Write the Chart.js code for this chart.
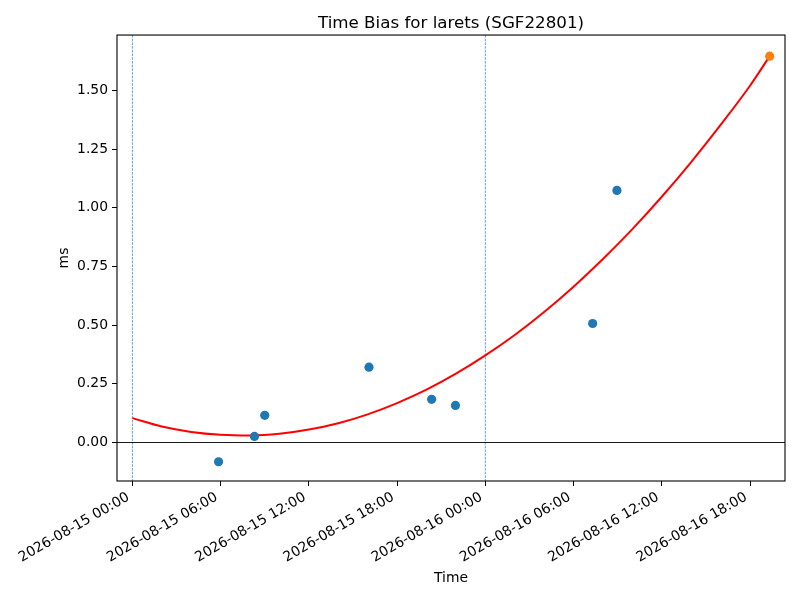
<!DOCTYPE html>
<html>
<head>
<meta charset="utf-8">
<title>Time Bias for larets (SGF22801)</title>
<script src="https://cdn.jsdelivr.net/npm/chart.js@4.4.1/dist/chart.umd.min.js"></script>
<style>
  html, body { margin: 0; padding: 0; background: #fff; }
  #wrap { width: 800px; height: 600px; }
</style>
</head>
<body>
<div id="wrap"><canvas id="biasChart" width="800" height="600"></canvas></div>
<script>
// hours counted from 2026-08-15 00:00
const obsHours = [5.86, 8.30, 9.00, 16.09, 20.35, 21.97, 31.30, 32.95];
const obsBias = [-0.082, 0.026, 0.116, 0.321, 0.184, 0.158, 0.507, 1.074];

// newest point, shown in orange
const latestHours = [43.34];
const latestBias = [1.646];

// fitted curve
const fitHours = [0, 2, 4, 6, 8, 10, 12, 14, 16, 18, 20, 22, 24, 26, 28, 30, 32, 34, 36, 38, 40, 42, 43.34];
const fitBias = [0.104, 0.068, 0.045, 0.033, 0.030, 0.037, 0.055, 0.082, 0.120, 0.168, 0.225, 0.293,
                 0.371, 0.458, 0.556, 0.664, 0.782, 0.909, 1.047, 1.195, 1.353, 1.520, 1.646];

const xTickHours = [0, 6, 12, 18, 24, 30, 36, 42];
const xTickLabels = ['2026-08-15 00:00', '2026-08-15 06:00', '2026-08-15 12:00', '2026-08-15 18:00',
                     '2026-08-16 00:00', '2026-08-16 06:00', '2026-08-16 12:00', '2026-08-16 18:00'];
const yTicks = [0, 0.25, 0.5, 0.75, 1.0, 1.25, 1.5];

const dayMarks = [0, 24];   // midnight markers
const zeroLine = [0];

const BLUE = '#1f77b4';
const ORANGE = '#ff7f0e';

Chart.defaults.font.family = '"DejaVu Sans", sans-serif';
Chart.defaults.color = '#000';

const toPoints = (xs, ys) => xs.map((h, i) => ({ x: h, y: ys[i] }));

// midnight lines, zero line and the black frame round the axes
const guides = {
    id: 'guides',
    beforeDatasetsDraw(chart) {
        const { ctx, chartArea: a, scales: { x, y } } = chart;
        ctx.save();
        ctx.beginPath();
        ctx.rect(a.left, a.top, a.width, a.height);
        ctx.clip();
        ctx.strokeStyle = BLUE;
        ctx.lineWidth = 0.7;
        ctx.setLineDash([2.6, 1.1]);
        dayMarks.forEach(h => {
            const px = x.getPixelForValue(h);
            ctx.beginPath();
            ctx.moveTo(px, a.top);
            ctx.lineTo(px, a.bottom);
            ctx.stroke();
        });
        ctx.setLineDash([]);
        ctx.strokeStyle = '#000';
        ctx.lineWidth = 0.9;
        zeroLine.forEach(v => {
            const py = y.getPixelForValue(v);
            ctx.beginPath();
            ctx.moveTo(a.left, py);
            ctx.lineTo(a.right, py);
            ctx.stroke();
        });
        ctx.restore();
    },
    afterDraw(chart) {
        const { ctx, chartArea: a } = chart;
        ctx.save();
        ctx.strokeStyle = '#000';
        ctx.lineWidth = 1.1;
        ctx.strokeRect(a.left, a.top, a.width, a.height);
        ctx.restore();
    }
};

new Chart(document.getElementById('biasChart'), {
    type: 'scatter',
    data: {
        datasets: [
            {
                label: 'latest',
                data: toPoints(latestHours, latestBias),
                backgroundColor: ORANGE,
                borderColor: ORANGE,
                pointRadius: 4.6,
                pointBorderWidth: 0,
                order: 0
            },
            {
                label: 'bias',
                data: toPoints(obsHours, obsBias),
                backgroundColor: BLUE,
                borderColor: BLUE,
                pointRadius: 4.6,
                pointBorderWidth: 0,
                order: 1
            },
            {
                label: 'fit',
                type: 'line',
                data: toPoints(fitHours, fitBias),
                borderColor: '#ff0000',
                borderWidth: 2,
                pointRadius: 0,
                cubicInterpolationMode: 'monotone',
                fill: false,
                order: 2
            }
        ]
    },
    options: {
        responsive: false,
        animation: false,
        layout: { padding: { left: 0, right: 15, top: 0, bottom: 0 } },
        plugins: {
            legend: { display: false },
            tooltip: { enabled: false },
            title: {
                display: true,
                text: 'Time Bias for larets (SGF22801)',
                fullSize: false,
                font: { size: 16.7, weight: 'normal' },
                color: '#000',
                padding: { top: 14, bottom: 1 }
            }
        },
        scales: {
            x: {
                type: 'linear',
                min: -1.047,
                max: 44.38,
                afterBuildTicks: scale => { scale.ticks = xTickHours.map(v => ({ value: v })); },
                afterFit: scale => { scale.height = 119; },
                ticks: {
                    autoSkip: false,
                    maxRotation: 30,
                    minRotation: 30,
                    padding: 3,
                    labelOffset: -4,
                    font: { size: 13.9 },
                    callback: (value, index) => xTickLabels[index]
                },
                grid: { drawOnChartArea: false, tickLength: 5, color: '#000', tickWidth: 1 },
                border: { display: false },
                title: { display: true, text: 'Time', font: { size: 13.9 }, padding: { top: 0, bottom: 13 } }
            },
            y: {
                type: 'linear',
                min: -0.164,
                max: 1.736,
                afterBuildTicks: scale => { scale.ticks = yTicks.map(v => ({ value: v })); },
                afterFit: scale => { scale.width = 117; },
                ticks: {
                    padding: 4,
                    font: { size: 13.9 },
                    callback: value => value.toFixed(2)
                },
                grid: { drawOnChartArea: false, tickLength: 5, color: '#000', tickWidth: 1 },
                border: { display: false },
                title: { display: true, text: 'ms', font: { size: 13.9 }, padding: { top: 56, bottom: 0 } }
            }
        }
    },
    plugins: [guides]
});
</script>
</body>
</html>
